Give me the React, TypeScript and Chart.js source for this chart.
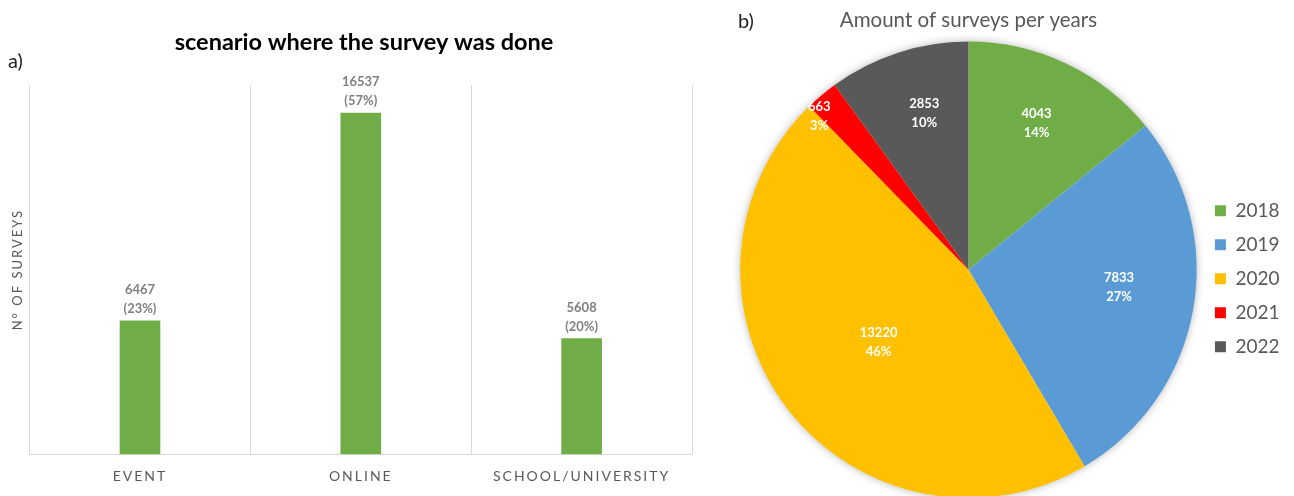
import React, { useEffect, useRef } from "react";
import { Chart, registerables } from "chart.js";

Chart.register(...registerables);

// ---- Data: panel a) ----
const scenarioCategories = ["EVENT", "ONLINE", "SCHOOL/UNIVERSITY"];
const scenarioValues = [6467, 16537, 5608];
const scenarioPercents = ["23%", "57%", "20%"];
const scenarioAxisMax = 17900;

// ---- Data: panel b) ----
const yearLabels = ["2018", "2019", "2020", "2021", "2022"];
const yearValues = [4043, 7833, 13220, 663, 2853];
const yearPercents = ["14%", "27%", "46%", "3%", "10%"];
const yearColors = ["#70AD47", "#5B9BD5", "#FFC000", "#FF0000", "#595959"];
// label placement inside each slice (style only)
const yearLabelRadius = [0.715, 0.663, 0.5, 0.946, 0.72];
const yearLabelAngleFrac = [0.485, 0.455, 0.496, 0.06, 0.565];

const FONT = "Lato";

const barPlugin = {
  id: "barDecor",
  beforeDraw(chart: any) {
    (chart.ctx as any).letterSpacing = "2px";
  },
  beforeDatasetsDraw(chart: any) {
    (chart.ctx as any).letterSpacing = "0px";
  },
  afterDatasetsDraw(chart: any) {
    const ctx = chart.ctx;
    const meta = chart.getDatasetMeta(0);
    ctx.save();
    ctx.fillStyle = "#7F7F7F";
    ctx.font = `bold 13px ${FONT}`;
    ctx.textAlign = "center";
    ctx.textBaseline = "middle";
    meta.data.forEach((bar: any, i: number) => {
      ctx.fillText(String(scenarioValues[i]), bar.x, bar.y - 31);
      ctx.fillText(`(${scenarioPercents[i]})`, bar.x, bar.y - 12);
    });
    ctx.restore();
  },
  afterDraw(chart: any) {
    const ctx = chart.ctx;
    ctx.save();
    (ctx as any).letterSpacing = "0px";
    ctx.fillStyle = "#000000";
    ctx.font = `bold 23.5px ${FONT}`;
    ctx.textAlign = "center";
    ctx.textBaseline = "middle";
    ctx.fillText("scenario where the survey was done", 364, 42);
    ctx.font = `20px ${FONT}`;
    ctx.textAlign = "left";
    ctx.fillStyle = "#222222";
    ctx.fillText("a)", 8, 62);
    ctx.restore();
  },
};

const piePlugin = {
  id: "pieDecor",
  beforeDatasetsDraw(chart: any) {
    const ctx = chart.ctx;
    const arc = chart.getDatasetMeta(0).data[0];
    if (!arc) return;
    ctx.save();
    ctx.shadowColor = "rgba(0,0,0,0.35)";
    ctx.shadowBlur = 10;
    ctx.fillStyle = "#ffffff";
    ctx.beginPath();
    ctx.arc(arc.x, arc.y, arc.outerRadius - 1, 0, Math.PI * 2);
    ctx.fill();
    ctx.restore();
  },
  afterDatasetsDraw(chart: any) {
    const ctx = chart.ctx;
    const meta = chart.getDatasetMeta(0);
    ctx.save();
    ctx.fillStyle = "#ffffff";
    ctx.font = `bold 13px ${FONT}`;
    ctx.textAlign = "center";
    ctx.textBaseline = "middle";
    meta.data.forEach((arc: any, i: number) => {
      const ang = arc.startAngle + (arc.endAngle - arc.startAngle) * yearLabelAngleFrac[i];
      const r = arc.outerRadius * yearLabelRadius[i];
      const x = arc.x + Math.cos(ang) * r;
      const y = arc.y + Math.sin(ang) * r;
      ctx.fillText(String(yearValues[i]), x, y - 7.5);
      ctx.fillText(yearPercents[i], x, y + 11.5);
    });
    ctx.restore();
  },
  afterDraw(chart: any) {
    const ctx = chart.ctx;
    ctx.save();
    ctx.fillStyle = "#222222";
    ctx.font = `20px ${FONT}`;
    ctx.textAlign = "left";
    ctx.textBaseline = "middle";
    ctx.fillText("b)", 18, 22);
    ctx.restore();
  },
};

export default function App() {
  const barRef = useRef<HTMLCanvasElement | null>(null);
  const pieRef = useRef<HTMLCanvasElement | null>(null);

  useEffect(() => {
    const bar = new Chart(barRef.current as HTMLCanvasElement, {
      type: "bar",
      data: {
        labels: scenarioCategories,
        datasets: [
          {
            data: scenarioValues,
            backgroundColor: "#70AD47",
            barThickness: 40,
          },
        ],
      },
      options: {
        animation: false,
        responsive: false,
        maintainAspectRatio: false,
        layout: { padding: { top: 85, left: 6, right: 8, bottom: 12 } },
        plugins: {
          legend: { display: false },
          title: { display: false },
          tooltip: { enabled: false },
        },
        scales: {
          x: {
            grid: { display: true, color: "#D9D9D9", drawTicks: false, offset: true },
            border: { display: true, color: "#D9D9D9" },
            ticks: { color: "#595959", font: { family: FONT, size: 14 }, padding: 14 },
          },
          y: {
            min: 0,
            max: scenarioAxisMax,
            grid: { display: false, drawTicks: false },
            border: { display: false },
            ticks: { display: false },
            title: {
              display: true,
              text: "N° OF SURVEYS",
              color: "#595959",
              font: { family: FONT, size: 13 },
            },
          },
        },
      },
      plugins: [barPlugin],
    } as any);

    const pie = new Chart(pieRef.current as HTMLCanvasElement, {
      type: "pie",
      data: {
        labels: yearLabels,
        datasets: [
          {
            data: yearValues,
            backgroundColor: yearColors,
            borderWidth: 0,
          },
        ],
      },
      options: {
        animation: false,
        responsive: false,
        maintainAspectRatio: false,
        layout: { padding: { left: 17, right: 4.5, top: 0, bottom: 0 } },
        plugins: {
          title: {
            display: true,
            text: "Amount of surveys per years",
            color: "#595959",
            font: { family: FONT, size: 20.5, weight: "normal" },
            padding: { top: 8, bottom: 9 },
            fullSize: false,
          },
          legend: {
            position: "right",
            fullSize: false,
            title: { display: true, text: "", font: { size: 10 }, padding: { top: 3, bottom: 3 } },
            labels: {
              boxWidth: 11,
              boxHeight: 11,
              padding: 15,
              color: "#595959",
              font: { family: FONT, size: 19 },
            },
          },
          tooltip: { enabled: false },
        },
      },
      plugins: [piePlugin],
    } as any);

    return () => {
      bar.destroy();
      pie.destroy();
    };
  }, []);

  return (
    <div
      style={{
        position: "fixed",
        left: 0,
        top: 0,
        width: 1294,
        height: 496,
        overflow: "hidden",
        background: "#ffffff",
      }}
    >
      <canvas
        ref={barRef}
        width={700}
        height={511}
        style={{ position: "absolute", left: 0, top: 0, width: 700, height: 511 }}
      />
      <canvas
        ref={pieRef}
        width={574}
        height={498}
        style={{ position: "absolute", left: 720, top: 0, width: 574, height: 498 }}
      />
    </div>
  );
}
